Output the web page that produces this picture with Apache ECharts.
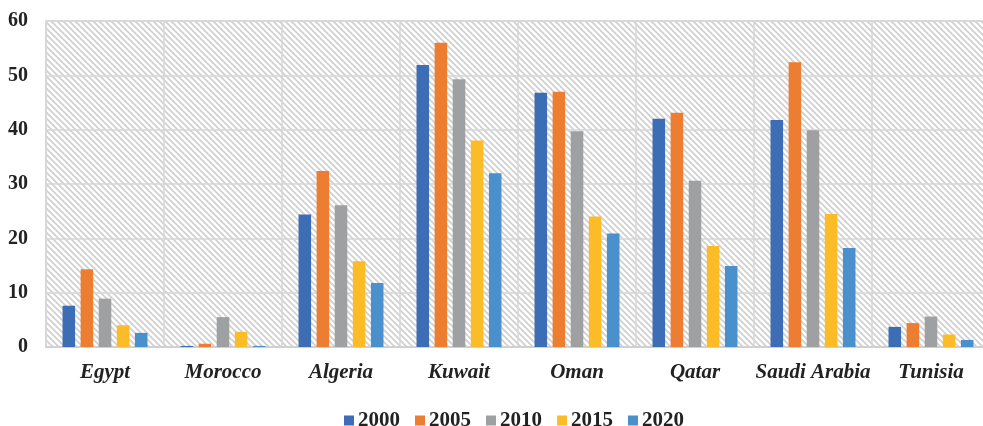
<!DOCTYPE html>
<html>
<head>
<meta charset="utf-8">
<script src="https://cdn.jsdelivr.net/npm/echarts@6/dist/echarts.min.js"></script>
<style>
html,body{margin:0;padding:0;background:#fff;overflow:hidden;}
#c{width:992px;height:426px;}
</style>
</head>
<body>
<div id="c"></div>
<script>
const categories = ['Egypt','Morocco','Algeria','Kuwait','Oman','Qatar','Saudi Arabia','Tunisia'];
const seriesNames = ['2000','2005','2010','2015','2020'];
const v2000 = [7.6, 0.2, 24.4, 51.9, 46.8, 42.0, 41.8, 3.7];
const v2005 = [14.3, 0.6, 32.4, 56.0, 47.0, 43.1, 52.4, 4.4];
const v2010 = [8.9, 5.5, 26.1, 49.3, 39.7, 30.6, 39.9, 5.6];
const v2015 = [4.0, 2.8, 15.8, 38.0, 24.0, 18.6, 24.5, 2.3];
const v2020 = [2.6, 0.2, 11.8, 32.0, 20.9, 14.9, 18.2, 1.3];
const yTicks = [0, 10, 20, 30, 40, 50, 60];

const colors = ['#3D6DB5', '#ED7D31', '#9EA0A1', '#FBBC28', '#4A90CD'];
const allValues = [v2000, v2005, v2010, v2015, v2020];

// hatch pattern
const tile = document.createElement('canvas');
tile.width = 6; tile.height = 6;
const ctx = tile.getContext('2d');
ctx.fillStyle = '#ffffff';
ctx.fillRect(0, 0, 6, 6);
ctx.strokeStyle = '#cfcfcf';
ctx.lineWidth = 1.6;
ctx.beginPath();
ctx.moveTo(-1, -1); ctx.lineTo(7, 7);
ctx.moveTo(-4, 2); ctx.lineTo(4, 10);
ctx.moveTo(2, -4); ctx.lineTo(10, 4);
ctx.stroke();

const chart = echarts.init(document.getElementById('c'));
const fontFam = '"Liberation Serif", "DejaVu Serif", serif';
chart.setOption({
  animation: false,
  backgroundColor: '#ffffff',
  color: colors,
  textStyle: { fontFamily: fontFam },
  grid: {
    left: 46, top: 21, width: 944, height: 326,
    show: true,
    backgroundColor: { image: tile, repeat: 'repeat' },
    borderColor: '#d6d6d6', borderWidth: 1.5
  },
  legend: {
    top: 405, left: 339,
    itemWidth: 10, itemHeight: 10, itemGap: 15,
    icon: 'rect',
    textStyle: { fontFamily: fontFam, fontWeight: 'bold', fontSize: 21, color: '#222', padding: [0, 0, 0, -1] },
    data: seriesNames
  },
  xAxis: {
    type: 'category',
    data: categories,
    axisLine: { show: true, lineStyle: { color: '#d0d0d0', width: 2 } },
    axisTick: { show: false },
    splitLine: { show: true, interval: 0, lineStyle: { color: '#d6d6d6', width: 1.5 } },
    axisLabel: {
      interval: 0, margin: 15,
      fontFamily: fontFam, fontWeight: 'bold', fontStyle: 'italic', fontSize: 21, color: '#222'
    }
  },
  yAxis: {
    type: 'value', min: yTicks[0], max: yTicks[yTicks.length - 1], interval: 10,
    axisLine: { show: false }, axisTick: { show: false },
    splitLine: { show: true, lineStyle: { color: '#d6d6d6', width: 1.5 } },
    axisLabel: { margin: 18, fontFamily: fontFam, fontWeight: 'bold', fontSize: 20, color: '#222' }
  },
  series: seriesNames.map((n, i) => ({
    name: n, type: 'bar', data: allValues[i],
    barGap: '44%', barCategoryGap: '28%',
    itemStyle: { color: colors[i] }
  }))
});
</script>
</body>
</html>
